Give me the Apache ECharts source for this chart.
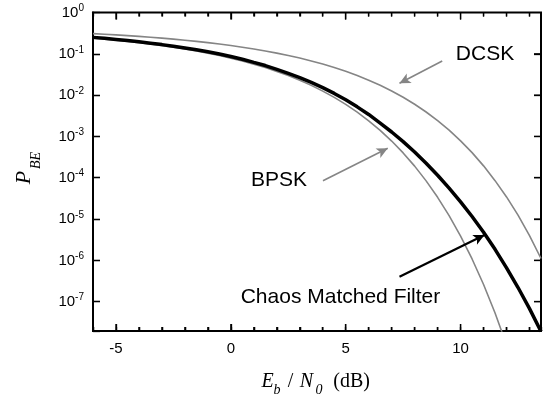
<!DOCTYPE html>
<html><head><meta charset="utf-8">
<script src="https://cdn.jsdelivr.net/npm/echarts@6/dist/echarts.min.js"></script>
<style>html,body{margin:0;padding:0;background:#fff}#c{width:547px;height:398px}</style>
</head><body><div id="c"></div>
<script>
const snrDb = [-6,-5.5,-5,-4.5,-4,-3.5,-3,-2.5,-2,-1.5,-1,-0.5,0,0.5,1,1.5,2,2.5,3,3.5,4,4.5,5,5.5,6,6.5,7,7.5,8,8.5,9,9.5,10,10.5,11,11.5,12,12.5,13,13.5];
const bpsk = [0.239,0.226,0.213,0.200,0.186,0.172,0.158,0.145,0.131,0.117,0.104,0.091,0.0786,0.0671,0.0563,0.0464,0.0375,0.0297,0.0229,0.0172,0.0125,0.0088,0.00596,0.00386,0.00239,0.0014,0.000773,0.000399,0.000191,8.4e-5,3.36e-5,1.21e-5,3.87e-6,1.08e-6,2.61e-7,5.3e-8,9.0e-9,null,null,null];
const dcsk = [0.308,0.298,0.287,0.276,0.264,0.252,0.2395,0.2267,0.2135,0.2001,0.1864,0.1726,0.1587,0.1447,0.1309,0.1173,0.104,0.0912,0.0789,0.0673,0.0565,0.0466,0.0377,0.0298,0.023,0.0173,0.0126,0.00886,0.006,0.0039,0.00241,0.00142,0.00078,0.000405,0.000194,8.5e-5,3.43e-5,1.24e-5,3.97e-6,1.11e-6];
const chaos = [0.25,0.237,0.223,0.209,0.195,0.181,0.167,0.153,0.139,0.125,0.112,0.099,0.086,0.074,0.062,0.052,0.042,0.0335,0.0265,0.0203,0.0152,0.011,0.0077,0.0052,0.0034,0.0021,0.00128,0.00075,0.00042,0.000225,0.000115,5.6e-5,2.6e-5,1.15e-5,4.8e-6,1.85e-6,6.6e-7,2.2e-7,6.8e-8,1.9e-8];
const xTickValues = [-6,-5,-4,-3,-2,-1,0,1,2,3,4,5,6,7,8,9,10,11,12,13];
const xMajorTicks = [-5,0,5,10];
const yTickValues = [1e-7,1e-6,1e-5,1e-4,1e-3,1e-2,1e-1];
const xMin = -6, xMax = 13.5;
const yMin = 1.95e-8, yMax = 1;
const arrowDcsk = [[9.2,0.067],[7.34,0.0193]];
const arrowBpsk = [[4.01,8.45e-5],[6.83,5.15e-4]];
const arrowChaos = [[7.34,4.0e-7],[11.04,4.1e-6]];
const labelNames = ['DCSK','BPSK','Chaos Matched Filter'];

const GRAY = '#858585';
const G = {left:93, right:6, top:12.5, bottom:67};
const W = 547 - G.left - G.right, H = 398 - G.top - G.bottom;
const chart = echarts.init(document.getElementById('c'));
const pairs = ys => snrDb.map((x,i)=>[x, ys[i]]).filter(p=>p[1]!=null);
const sans = 'Liberation Sans, Arial, sans-serif';
const serif = 'Liberation Serif, Times New Roman, serif';

// tick lengths expressed in axis units (pixels per unit from the grid size)
const pxPerX = W / (xMax - xMin);
const pxPerDecade = H / (Math.log10(yMax) - Math.log10(yMin));
const TS = {color:'#000', width:1.3, type:'solid'};
const tickMarks = [];
xTickValues.forEach(v => {
  const len = xMajorTicks.indexOf(v) >= 0 ? 7 : 4;
  const f = Math.pow(10, len / pxPerDecade);
  tickMarks.push([{coord:[v, yMin], lineStyle:TS}, {coord:[v, yMin * f]}]);
  tickMarks.push([{coord:[v, yMax], lineStyle:TS}, {coord:[v, yMax / f]}]);
});
yTickValues.forEach(v => {
  const d = 7 / pxPerX;
  tickMarks.push([{coord:[xMin, v], lineStyle:TS}, {coord:[xMin + d, v]}]);
  tickMarks.push([{coord:[xMax, v], lineStyle:TS}, {coord:[xMax - d, v]}]);
});
const tickLine = (x1,y1,x2,y2) => ({type:'line', shape:{x1:x1, y1:y1, x2:x2, y2:y2}, style:{stroke:'#000', lineWidth:1.3}});

const option = {
  animation:false,
  grid:{left:G.left, right:G.right, top:G.top, bottom:G.bottom, show:true, borderColor:'#000', borderWidth:2, backgroundColor:'transparent'},
  xAxis:[{type:'value', min:xMin, max:xMax, interval:1,
    axisLine:{show:true, onZero:false, lineStyle:{color:'#000', width:2}},
    axisTick:{show:true, inside:true, length:4, lineStyle:{color:'#000', width:1.3}},
    axisLabel:{color:'#000', fontSize:15, fontFamily:sans, margin:10,
      formatter: v => (Math.abs(v % 5) < 1e-9 ? String(v) : '')},
    splitLine:{show:false}}],
  yAxis:[{type:'log', logBase:10, min:yMin, max:yMax,
    axisLine:{show:true, onZero:false, lineStyle:{color:'#000', width:2}},
    axisTick:{show:true, inside:true, length:7, lineStyle:{color:'#000', width:1.3}},
    axisLabel:{margin:9, color:'#000',
      formatter: v => {
        const l = Math.log10(v); const n = Math.round(l);
        if (Math.abs(l-n) > 1e-6) return '';
        return '{b|10}{s|' + n + '}';
      },
      rich:{ b:{fontSize:15, fontFamily:sans, color:'#000', lineHeight:18},
             s:{fontSize:10, fontFamily:sans, color:'#000', verticalAlign:'top', lineHeight:10} }},
    splitLine:{show:false}}],
  series:[
    {type:'line', name:'BPSK', data:pairs(bpsk), showSymbol:false, lineStyle:{color:GRAY, width:1.6}, z:2},
    {type:'line', name:'DCSK', data:pairs(dcsk), showSymbol:false, lineStyle:{color:GRAY, width:1.6}, z:2},
    {type:'line', name:'Chaos', data:pairs(chaos), showSymbol:false, lineStyle:{color:'#000', width:3.5}, z:3,
     markLine:{silent:true, symbol:['none','arrow'], symbolSize:[8,11], label:{show:false},
       data:[
         [{coord:arrowDcsk[0], lineStyle:{color:GRAY, width:1.6, type:'solid'}}, {coord:arrowDcsk[1]}],
         [{coord:arrowBpsk[0], lineStyle:{color:GRAY, width:1.6, type:'solid'}}, {coord:arrowBpsk[1]}],
         [{coord:arrowChaos[0], lineStyle:{color:'#000', width:2.2, type:'solid'}}, {coord:arrowChaos[1]}]
       ]}},
    {type:'line', name:'ticks', data:[], z:4,
     markLine:{silent:true, symbol:['none','none'], label:{show:false}, emphasis:{disabled:true}, data:tickMarks}},
    {type:'custom', z:10, data:xTickValues.map(v=>[v, yMin]), encode:{x:0, y:1},
     renderItem:(params, api) => {
       const v = api.value(0);
       const len = xMajorTicks.indexOf(v) >= 0 ? 7 : 4;
       const b = api.coord([v, yMin]), t = api.coord([v, yMax]);
       return {type:'group', children:[ tickLine(b[0], b[1], b[0], b[1]-len), tickLine(t[0], t[1], t[0], t[1]+len) ]};
     }},
    {type:'custom', z:10, data:yTickValues.map(v=>[xMax, v]), encode:{x:0, y:1},
     renderItem:(params, api) => {
       const p = api.coord([api.value(0), api.value(1)]);
       return tickLine(p[0], p[1], p[0]-7, p[1]);
     }}
  ],
  graphic:[
    {type:'text', x:485, y:54, style:{text:labelNames[0], font:'21px '+sans, fill:'#000', align:'center', verticalAlign:'middle'}},
    {type:'text', x:279, y:180, style:{text:labelNames[1], font:'21px '+sans, fill:'#000', align:'center', verticalAlign:'middle'}},
    {type:'text', x:340.5, y:297.5, style:{text:labelNames[2], font:'21px '+sans, fill:'#000', align:'center', verticalAlign:'middle'}},
    {type:'text', x:267.5, y:382, style:{text:'E', font:'italic 20px '+serif, fill:'#000', align:'center', verticalAlign:'middle'}},
    {type:'text', x:277, y:390, style:{text:'b', font:'italic 14px '+serif, fill:'#000', align:'center', verticalAlign:'middle'}},
    {type:'text', x:290.5, y:382, style:{text:'/', font:'20px '+serif, fill:'#000', align:'center', verticalAlign:'middle'}},
    {type:'text', x:306.5, y:382, style:{text:'N', font:'italic 20px '+serif, fill:'#000', align:'center', verticalAlign:'middle'}},
    {type:'text', x:319, y:390, style:{text:'0', font:'italic 14px '+serif, fill:'#000', align:'center', verticalAlign:'middle'}},
    {type:'text', x:351.7, y:382, style:{text:'(dB)', font:'20px '+serif, fill:'#000', align:'center', verticalAlign:'middle'}},
    {type:'text', x:24.5, y:177.5, rotation:Math.PI/2, style:{text:'P', font:'italic 22px '+serif, fill:'#000', align:'center', verticalAlign:'middle'}},
    {type:'text', x:36, y:160.5, rotation:Math.PI/2, style:{text:'BE', font:'italic 14px '+serif, fill:'#000', align:'center', verticalAlign:'middle'}}
  ]
};
chart.setOption(option);
</script></body></html>
